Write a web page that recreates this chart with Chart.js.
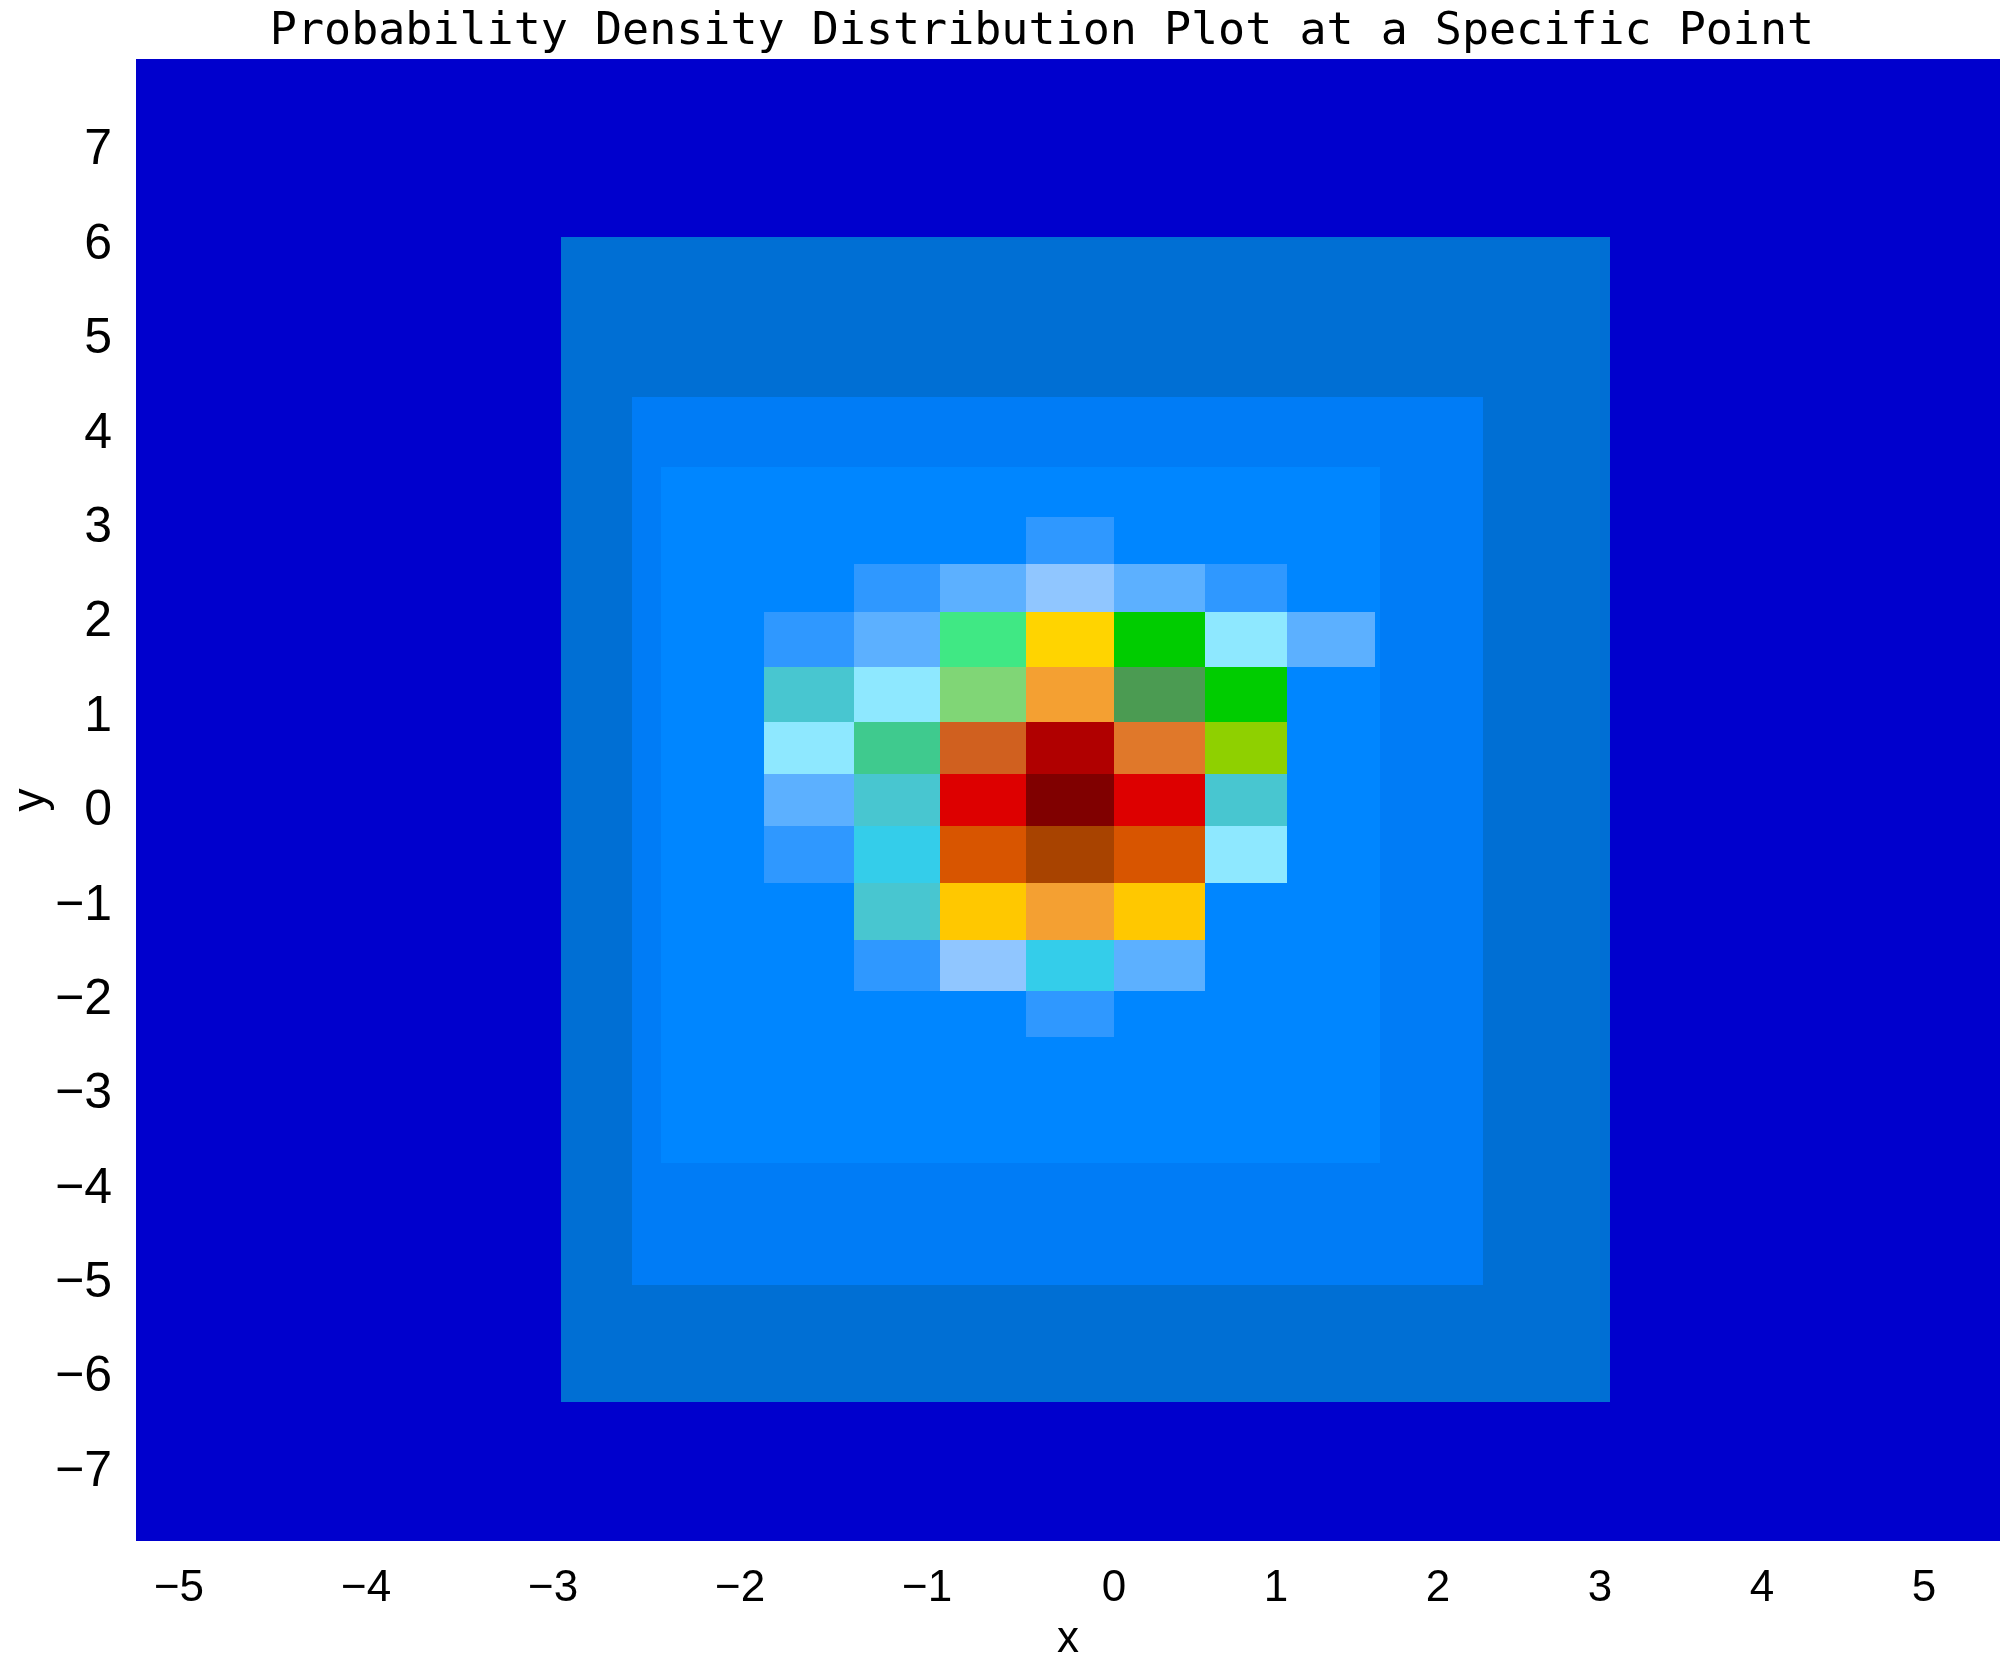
<!DOCTYPE html>
<html>
<head>
<meta charset="utf-8">
<title>Probability Density Distribution Plot at a Specific Point</title>
<script src="https://cdn.jsdelivr.net/npm/chart.js@4.4.1/dist/chart.umd.min.js"></script>
<style>
    html, body { margin: 0; padding: 0; background: #ffffff; }
    #wrap { width: 2000px; height: 1666px; }
</style>
</head>
<body>
<div id="wrap"><canvas id="densityChart" width="2000" height="1666"></canvas></div>
<script>
// Cell grid edges (data units)
var xEdges = [-1.87, -1.39, -0.93, -0.47, 0.0, 0.56, 1.07, 1.61];
var yEdges = [3.12, 2.62, 2.11, 1.53, 0.95, 0.40, -0.16, -0.76, -1.36, -1.90, -2.39];

// Relative density per cell, top row first, null = empty cell
var row0 = [null, null, null, 0.16, null, null, null];
var row1 = [null, 0.16, 0.20, 0.24, 0.20, 0.16, null];
var row2 = [0.16, 0.20, 0.44, 0.64, 0.56, 0.28, 0.20];
var row3 = [0.32, 0.28, 0.48, 0.72, 0.52, 0.56, null];
var row4 = [0.28, 0.40, 0.80, 0.96, 0.76, 0.60, null];
var row5 = [0.20, 0.32, 0.92, 1.00, 0.92, 0.32, null];
var row6 = [0.16, 0.36, 0.84, 0.88, 0.84, 0.28, null];
var row7 = [null, 0.32, 0.68, 0.72, 0.68, null, null];
var row8 = [null, 0.16, 0.24, 0.36, 0.20, null, null];
var row9 = [null, null, null, 0.16, null, null, null];
var cellDensity = [row0, row1, row2, row3, row4, row5, row6, row7, row8, row9];

// Nested background bands, outer to inner
var floorDensity = 0;
var bandDensity = [0.04, 0.08, 0.12];
var bandXMin = [-2.96, -2.58, -2.42];
var bandXMax = [3.06, 2.28, 1.64];
var bandYMin = [-6.26, -5.02, -3.73];
var bandYMax = [6.08, 4.39, 3.65];

// Discrete colour levels, density 0 -> first, density 1 -> last
var levelColors = ['#0000cd', '#006fd4', '#007cf6', '#0086ff', '#2f98ff', '#5cb0ff',
                   '#90c6ff', '#8ee8ff', '#48c6d0', '#34cdea', '#3fca8e', '#40e884',
                   '#80d676', '#4b9b52', '#00cc00', '#8fd000', '#ffd400', '#ffc800',
                   '#f4a032', '#e0782a', '#d0601f', '#d85500', '#a84300', '#dd0000',
                   '#b00000', '#800000'];

function densityColor(d) {
    var i = Math.round(d * (levelColors.length - 1));
    return levelColors[Math.max(0, Math.min(levelColors.length - 1, i))];
}

// Linear axis with a different unit width on each side of a pivot value
class PivotScale extends Chart.LinearScale {
    decimalFor(v) {
        var p = this.options.pivot, f = this.options.pivotAt;
        if (v < p) {
            return f * (v - this.min) / (p - this.min);
        }
        return f + (1 - f) * (v - p) / (this.max - p);
    }
    getPixelForValue(v) {
        return v === null ? NaN : this.getPixelForDecimal(this.decimalFor(v));
    }
    getValueForPixel(px) {
        var d = this.getDecimalForPixel(px);
        var p = this.options.pivot, f = this.options.pivotAt;
        if (d < f) {
            return this.min + d / f * (p - this.min);
        }
        return p + (d - f) / (1 - f) * (this.max - p);
    }
}
PivotScale.id = 'pivot';
PivotScale.defaults = Chart.LinearScale.defaults;
Chart.register(PivotScale);

function fillBox(ctx, xs, ys, x0, x1, y0, y1, d) {
    var left = Math.round(xs.getPixelForValue(x0));
    var right = Math.round(xs.getPixelForValue(x1));
    var top = Math.round(ys.getPixelForValue(y1));
    var bottom = Math.round(ys.getPixelForValue(y0));
    ctx.fillStyle = densityColor(d);
    ctx.fillRect(left, top, right - left, bottom - top);
}

// draws floor, bands and cells through the chart scales
var heatmapPlugin = {
    id: 'heatmap',
    beforeDatasetsDraw: function (chart) {
        var ctx = chart.ctx;
        var area = chart.chartArea;
        var xs = chart.scales.x;
        var ys = chart.scales.y;
        ctx.save();
        ctx.beginPath();
        ctx.rect(area.left, area.top, area.width, area.height);
        ctx.clip();
        ctx.fillStyle = densityColor(floorDensity);
        ctx.fillRect(area.left, area.top, area.width, area.height);
        for (var b = 0; b < bandDensity.length; b++) {
            fillBox(ctx, xs, ys, bandXMin[b], bandXMax[b], bandYMin[b], bandYMax[b], bandDensity[b]);
        }
        for (var r = 0; r < cellDensity.length; r++) {
            for (var c = 0; c < cellDensity[r].length; c++) {
                if (cellDensity[r][c] === null) continue;
                fillBox(ctx, xs, ys, xEdges[c], xEdges[c + 1], yEdges[r + 1], yEdges[r], cellDensity[r][c]);
            }
        }
        ctx.restore();
    }
};

// the title sits a little right of the page centre in the original
var titleShiftPlugin = {
    id: 'titleShift',
    afterLayout: function (chart) {
        if (chart.titleBlock) {
            chart.titleBlock.left = 84;
        }
    }
};

function minusLabel(value) {
    return value < 0 ? '\u2212' + Math.abs(value) : String(value);
}

var densityCtx = document.getElementById('densityChart').getContext('2d');
var densityChart = new Chart(densityCtx, {
    type: 'scatter',
    data: {
        datasets: [{ label: 'density', data: [] }]
    },
    plugins: [heatmapPlugin, titleShiftPlugin],
    options: {
        responsive: false,
        animation: false,
        devicePixelRatio: 1,
        layout: { padding: 0 },
        plugins: {
            legend: { display: false },
            tooltip: { enabled: false },
            title: {
                display: true,
                text: 'Probability Density Distribution Plot at a Specific Point',
                color: '#000000',
                font: { family: 'DejaVu Sans Mono', size: 45, weight: 'normal' },
                padding: { top: 5, bottom: 0 }
            }
        },
        scales: {
            x: {
                type: 'pivot',
                min: -5.23,
                max: 5.47,
                pivot: 0,
                pivotAt: 0.5247,
                afterFit: function (scale) { scale.height = 125; },
                grid: { display: false },
                border: { display: false },
                ticks: {
                    stepSize: 1,
                    includeBounds: false,
                    padding: 13,
                    color: '#000000',
                    font: { family: 'Liberation Sans', size: 44 },
                    callback: minusLabel
                },
                title: {
                    display: true,
                    text: 'x',
                    color: '#000000',
                    font: { family: 'Liberation Sans', size: 44 },
                    padding: { top: 0, bottom: 0 }
                }
            },
            y: {
                type: 'linear',
                min: -7.73,
                max: 7.97,
                afterFit: function (scale) { scale.width = 136; },
                grid: { display: false },
                border: { display: false },
                ticks: {
                    stepSize: 1,
                    includeBounds: false,
                    padding: 16,
                    color: '#000000',
                    font: { family: 'Liberation Sans', size: 50 },
                    callback: minusLabel
                },
                title: {
                    display: true,
                    text: 'y',
                    color: '#000000',
                    font: { family: 'Liberation Sans', size: 46 },
                    padding: { top: 4, bottom: 0 }
                }
            }
        }
    }
});
</script>
</body>
</html>
